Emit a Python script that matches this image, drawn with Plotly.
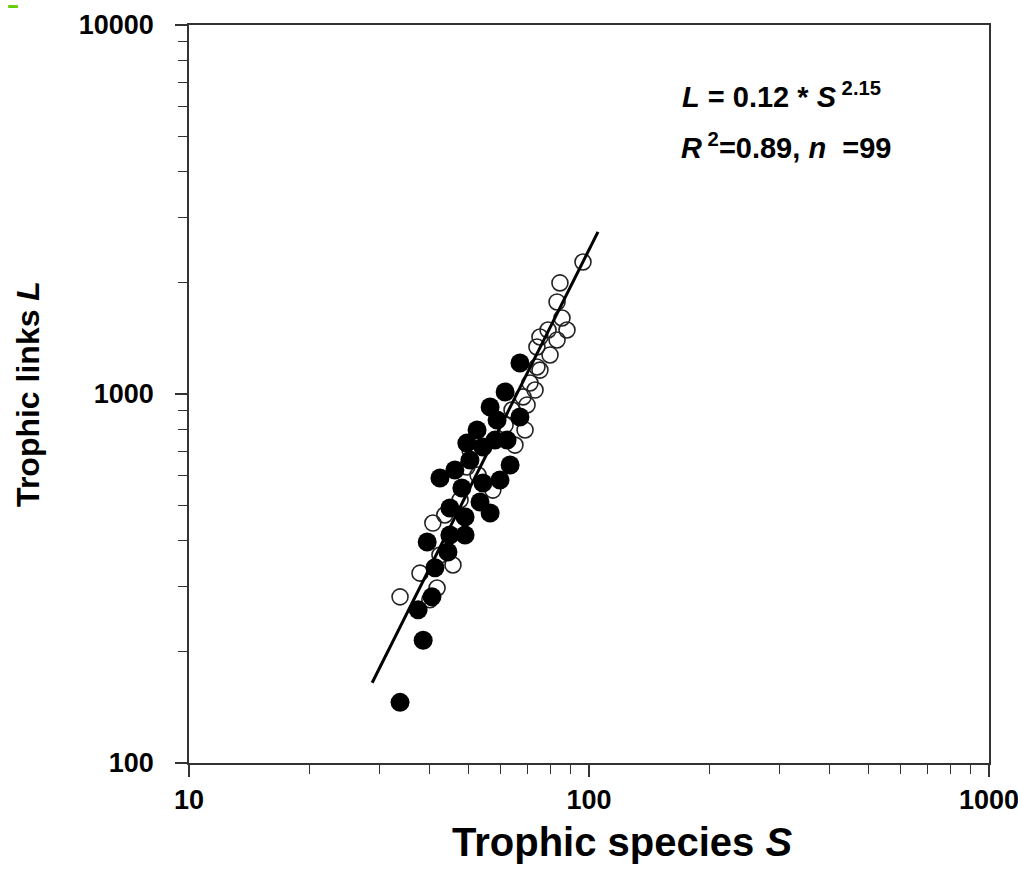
import plotly.graph_objects as go

# Filled circles (trophic species S, trophic links L)
filled_S = [33.7, 38.5, 37.4, 40.5, 41.2, 39.4, 44.4, 44.9, 49.0, 44.9, 49.0, 42.4,
            48.1, 54.3, 53.4, 56.6, 63.5, 67.2, 61.7, 67.2, 56.6, 62.4, 52.5, 49.5,
            54.3, 50.4, 46.2, 59.9, 58.2, 58.9]
filled_L = [146, 215, 260, 282, 338, 397, 373, 415, 415, 491, 464, 592,
            556, 574, 510, 476, 642, 1213, 1013, 866, 922, 750, 799, 736,
            718, 662, 622, 585, 750, 850]

# Open circles
open_S = [96.6, 84.6, 83.2, 85.6, 88.1, 83.2, 75.4, 74.1, 74.1, 71.2, 68.4, 75.4,
          49.5, 40.7, 33.7, 37.8, 41.7, 45.7, 65.3, 69.2, 61.7, 64.2, 70.0, 50.4,
          43.6, 47.6, 42.4, 40.0, 52.8, 79.9, 79.0, 73.3, 57.5]
open_L = [2279, 2000, 1776, 1607, 1491, 1401, 1427, 1341, 1184, 1071, 982, 1161,
          634, 447, 282, 327, 298, 344, 727, 799, 824, 905, 934, 705,
          470, 516, 366, 277, 603, 1276, 1491, 1025, 549]

# Fitted power law L = 0.12 * S^2.15 (end points)
fit_S = [28.7, 105.3]
fit_L = [165, 2750]

x_ticks = [10, 100, 1000]
y_ticks = [100, 1000, 10000]

fig = go.Figure()
fig.add_trace(go.Scatter(x=open_S, y=open_L, mode="markers",
                         marker=dict(symbol="circle-open", size=16, color="#222",
                                     line=dict(width=1.6, color="#222")),
                         showlegend=False))
fig.add_trace(go.Scatter(x=filled_S, y=filled_L, mode="markers",
                         marker=dict(symbol="circle", size=19, color="black",
                                     line=dict(width=0)),
                         showlegend=False))
fig.add_trace(go.Scatter(x=fit_S, y=fit_L, mode="lines",
                         line=dict(color="black", width=3), showlegend=False))

font_family = "Liberation Sans, Arial, sans-serif"
axis_common = dict(
    type="log", showgrid=False, zeroline=False, automargin=False,
    showline=True, linecolor="#333", linewidth=1.5, mirror=True,
    ticks="outside", ticklen=12, tickwidth=1.5, tickcolor="#333",
    tickfont=dict(family=font_family, size=27, color="black", weight="bold"),
    ticklabeloverflow="allow",
    minor=dict(dtick="D1", ticks="outside", ticklen=9, tickwidth=1.2,
               tickcolor="#333", showgrid=False),
)

fig.update_xaxes(range=[1, 3], tickvals=x_ticks, ticktext=[str(v) for v in x_ticks],
                 **axis_common)
fig.update_yaxes(range=[2, 4], tickvals=y_ticks, ticktext=[str(v) for v in y_ticks],
                 ticklabelstandoff=16,
                 title=dict(text="Trophic links <i>L</i>", standoff=30,
                            font=dict(family=font_family, size=32, color="black",
                                      weight="bold")),
                 **axis_common)

# x-axis title (placed as in the reference, slightly right of centre)
fig.add_annotation(xref="paper", yref="paper", x=0.541, y=-0.107, xanchor="center",
                   yanchor="middle", showarrow=False,
                   text="<b>Trophic species <i>S</i></b>",
                   font=dict(family=font_family, size=40, color="black"))

fig.add_annotation(xref="paper", yref="paper", x=0.614, y=0.905, xanchor="left",
                   yanchor="middle", showarrow=False, align="left",
                   text="<b><i>L</i> = 0.12 * <i>S</i><sup> 2.15</sup></b>",
                   font=dict(family=font_family, size=29, color="black"))
fig.add_annotation(xref="paper", yref="paper", x=0.612, y=0.836, xanchor="left",
                   yanchor="middle", showarrow=False, align="left",
                   text="<b><i>R</i><sup> 2</sup>=0.89, <i>n</i>  =99</b>",
                   font=dict(family=font_family, size=29, color="black"))

fig.add_shape(type="rect", xref="paper", yref="paper",
              x0=-0.226, x1=-0.214, y0=1.023, y1=1.027,
              fillcolor="#66cc00", line=dict(width=0))

fig.update_layout(width=1018, height=884,
                  margin=dict(l=189, r=29, t=25, b=121),
                  paper_bgcolor="white", plot_bgcolor="white",
                  font=dict(family=font_family, color="black"))

fig.write_html("out.html")
